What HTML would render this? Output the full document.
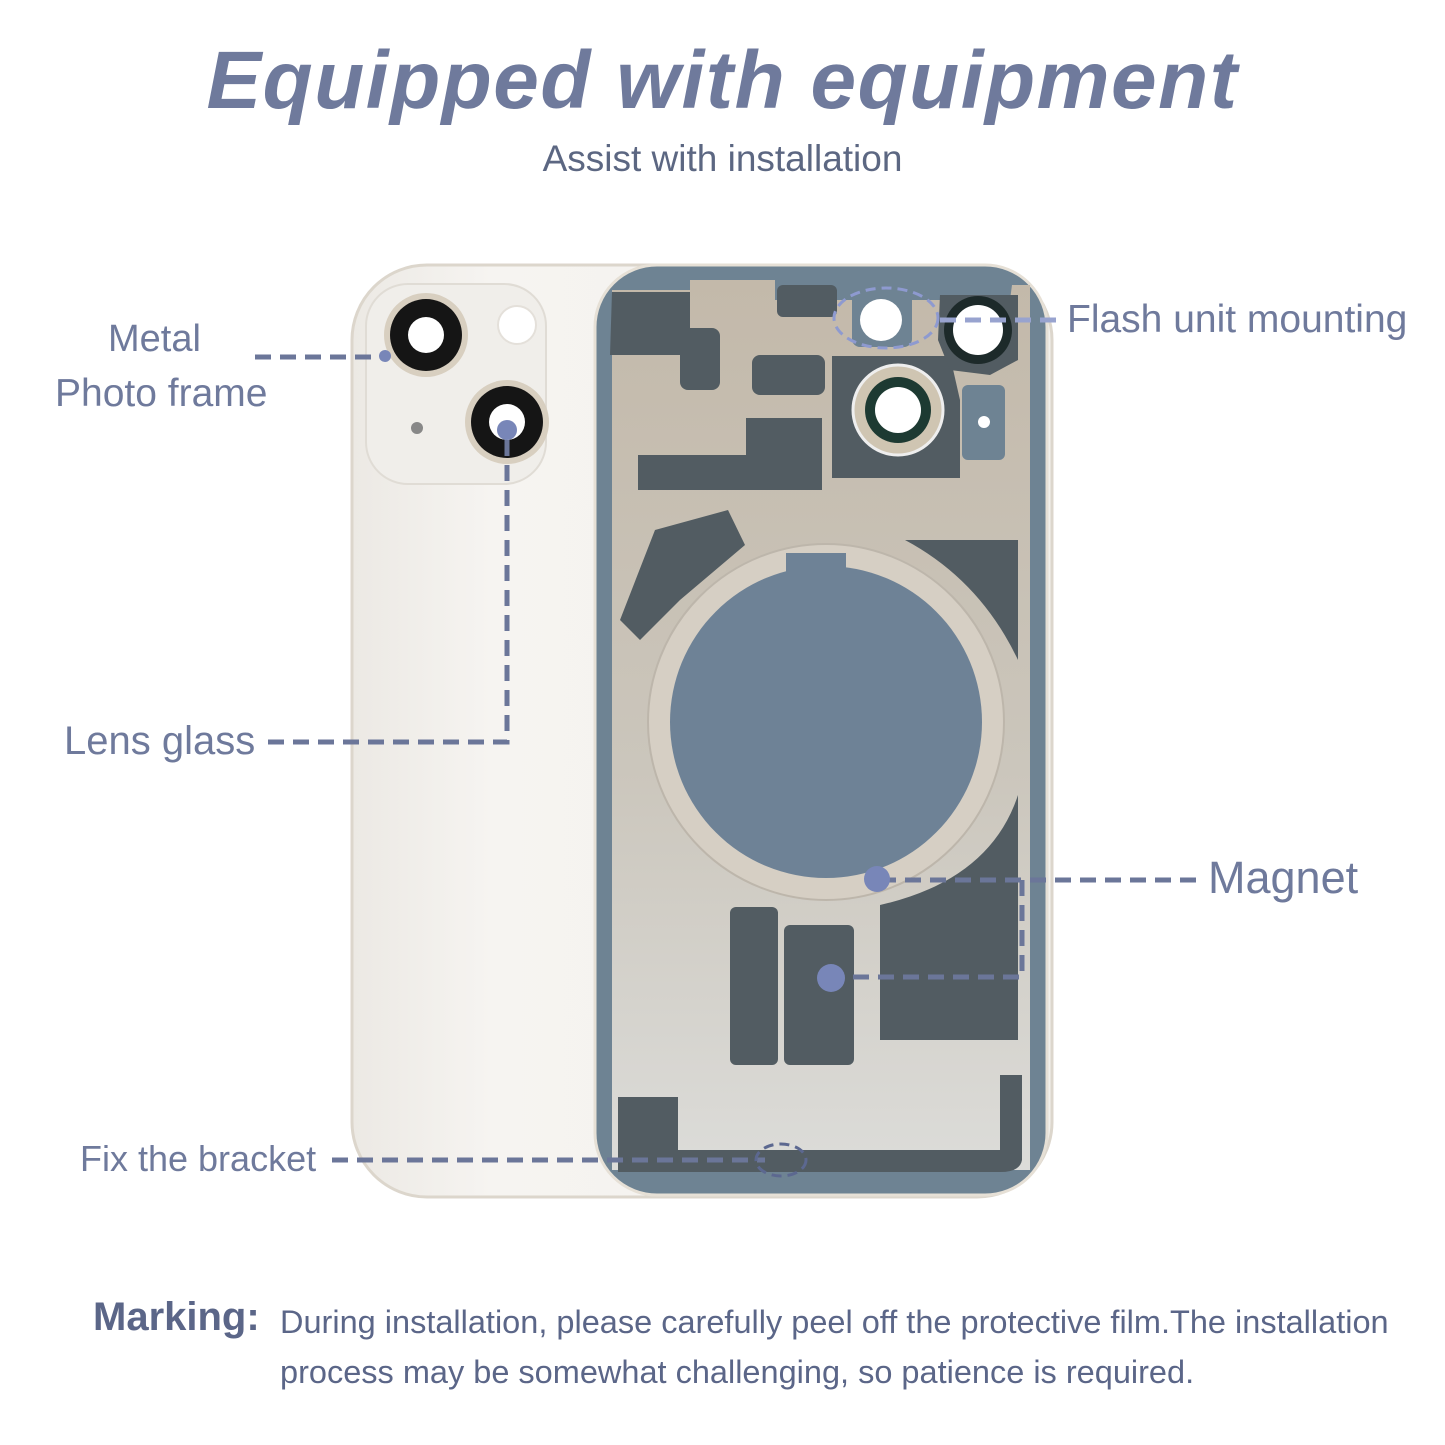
<!DOCTYPE html>
<html><head><meta charset="utf-8"><style>
html,body{margin:0;padding:0;background:#fff}
body{width:1445px;height:1445px;overflow:hidden;position:relative;font-family:"Liberation Sans",sans-serif}
.t{position:absolute;color:#6f7a9c;white-space:nowrap}
</style></head><body>
<svg width="1445" height="1445" style="position:absolute;left:0;top:0">
<defs>
<linearGradient id="pl" x1="0" y1="0" x2="0" y2="1">
<stop offset="0" stop-color="#c3b9aa"/><stop offset="0.55" stop-color="#cbc6bc"/><stop offset="1" stop-color="#dcdcd9"/></linearGradient>
<linearGradient id="wh" x1="0" y1="0" x2="1" y2="0">
<stop offset="0" stop-color="#ece9e4"/><stop offset="0.2" stop-color="#f6f4f1"/><stop offset="1" stop-color="#f2f0ec"/></linearGradient>
</defs>
<rect x="352" y="265" width="700" height="932" rx="75" fill="url(#wh)" stroke="#dcd6cc" stroke-width="3"/>
<rect x="366" y="284" width="180" height="200" rx="42" fill="#f0eeea" stroke="#e0dcd5" stroke-width="2"/>
<circle cx="426" cy="335" r="42" fill="#d8cfc0"/><circle cx="426" cy="335" r="36" fill="#151515"/><circle cx="426" cy="335" r="18" fill="#fff"/>
<circle cx="507" cy="422" r="42" fill="#d8cfc0"/><circle cx="507" cy="422" r="36" fill="#151515"/><circle cx="507" cy="422" r="18" fill="#fff"/>
<circle cx="517" cy="325" r="19" fill="#fff" stroke="#e4e0da" stroke-width="2"/>
<circle cx="417" cy="428" r="6" fill="#888"/>
<rect x="595" y="265" width="452" height="930" rx="62" fill="#6e8393"/>
<rect x="595" y="265" width="452" height="930" rx="62" fill="none" stroke="#e6e0d6" stroke-width="3"/>
<path d="M612 290 L690 290 L690 280 L775 280 L775 300 L1010 300 L1012 285 L1030 285 L1030 1170 L612 1170 Z" fill="url(#pl)"/>
<g fill="#525c62">
<path d="M612 292 L690 292 L690 355 L610 355 Z"/>
<rect x="680" y="328" width="40" height="62" rx="8"/>
<rect x="752" y="355" width="73" height="40" rx="8"/>
<rect x="777" y="285" width="60" height="32" rx="6"/>
<path d="M746 418 L822 418 L822 490 L638 490 L638 455 L746 455 Z"/>
<path d="M832 356 L950 356 L960 400 L960 478 L832 478 Z"/>
<path d="M940 295 L1018 295 L1018 360 L990 375 L950 370 L938 340 Z"/>
<path d="M655 530 L728 510 L745 545 L680 600 L640 640 L620 620 Z"/>
<path d="M905 540 L1018 540 L1018 660 Q980 580 905 540 Z"/>
<path d="M1018 795 L1018 1040 L880 1040 L880 905 Q990 880 1018 795 Z"/>
<rect x="730" y="907" width="48" height="158" rx="6"/>
<rect x="784" y="925" width="70" height="140" rx="6"/>
<path d="M618 1097 L678 1097 L678 1150 L1000 1150 L1000 1075 L1022 1075 L1022 1160 Q1020 1172 1000 1172 L618 1172 Z"/>
</g>
<rect x="962" y="385" width="43" height="75" rx="6" fill="#6e8393"/>
<circle cx="984" cy="422" r="6" fill="#fff"/>
<rect x="852" y="292" width="60" height="55" rx="8" fill="#6e8393"/>
<circle cx="881" cy="320" r="21" fill="#fff"/>
<circle cx="978" cy="330" r="34" fill="#1d2a2a"/><circle cx="978" cy="330" r="25" fill="#fff"/>
<circle cx="898" cy="410" r="45" fill="#cfc5b2" stroke="#eee" stroke-width="3"/><circle cx="898" cy="410" r="33" fill="#1d3a32"/><circle cx="898" cy="410" r="23" fill="#fff"/>
<circle cx="826" cy="722" r="178" fill="#d6cfc4" stroke="#bdb6ab" stroke-width="2"/>
<circle cx="826" cy="722" r="156" fill="#6e8296"/>
<rect x="786" y="553" width="60" height="30" fill="#6e8296"/>
<g stroke="#6b7699" stroke-width="5" fill="none" stroke-dasharray="16 9">
<path d="M255 357 L385 357"/>
<path d="M268 742 L507 742 L507 430"/>
<path d="M940 320 L1057 320" stroke="#98a3cf"/>
<path d="M880 880 L1198 880"/>
<path d="M1022 880 L1022 977 L836 977"/>
<path d="M332 1160 L765 1160"/>
</g>
<g fill="none" stroke="#8e9ad0" stroke-width="3" stroke-dasharray="10 6">
<ellipse cx="886" cy="318" rx="52" ry="30"/>
<ellipse cx="781" cy="1160" rx="25" ry="16" stroke="#5c6890"/>
</g>
<g fill="#7886b8">
<circle cx="385" cy="356" r="6"/><circle cx="507" cy="430" r="10"/>
<circle cx="877" cy="879" r="13"/><circle cx="831" cy="978" r="14"/>
</g>
</svg>
<div class="t" style="left:0;width:1445px;text-align:center;top:34px;font-size:82px;letter-spacing:1.5px;font-weight:bold;font-style:italic;color:#6f7a9c">Equipped with equipment</div>
<div class="t" style="left:0;width:1445px;text-align:center;top:138px;font-size:37px;color:#5c6782">Assist with installation</div>
<div class="t" style="left:108px;top:318px;font-size:38px">Metal</div>
<div class="t" style="left:55px;top:372px;font-size:39px">Photo frame</div>
<div class="t" style="left:64px;top:719px;font-size:40px">Lens glass</div>
<div class="t" style="left:1067px;top:298px;font-size:39px">Flash unit mounting</div>
<div class="t" style="left:1208px;top:852px;font-size:45px">Magnet</div>
<div class="t" style="left:80px;top:1138px;font-size:36px">Fix the bracket</div>
<div class="t" style="left:93px;top:1295px;font-size:40px;font-weight:bold;color:#5b6688">Marking:</div>
<div class="t" style="left:280px;top:1304px;font-size:32.5px;color:#5b6688">During installation, please carefully peel off the protective film.The installation</div>
<div class="t" style="left:280px;top:1354px;font-size:32.5px;color:#5b6688">process may be somewhat challenging, so patience is required.</div>
</body></html>
